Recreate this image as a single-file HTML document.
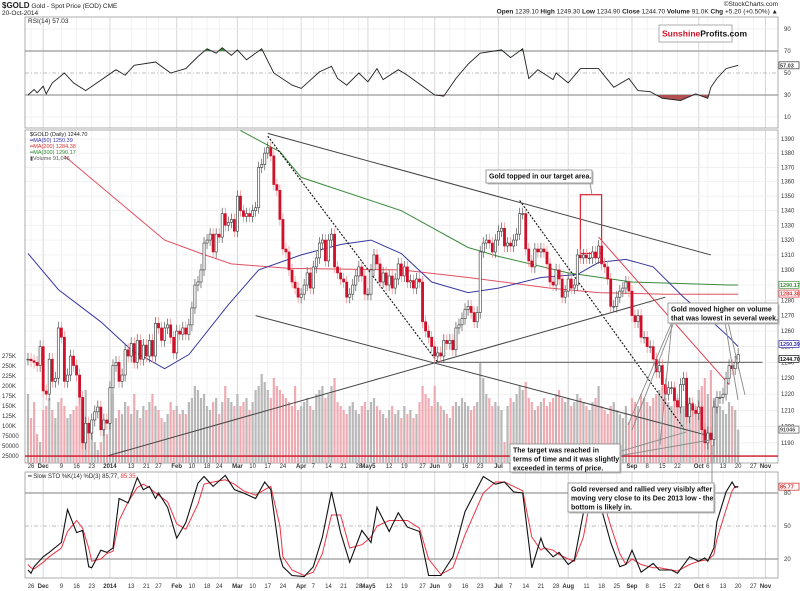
<!DOCTYPE html>
<html><head><meta charset="utf-8">
<style>
html,body{margin:0;padding:0;background:#fff;}
svg{display:block;font-family:"Liberation Sans",sans-serif;}
.t{font-size:6.5px;fill:#222;}
.ax{font-size:6px;fill:#333;}
.bold{font-weight:bold;}
.note{font-size:7px;font-weight:bold;fill:#111;}
</style></head>
<body>
<svg id="chart" width="800" height="591" viewBox="0 0 800 591" xmlns="http://www.w3.org/2000/svg">
<defs>
<clipPath id="clipP"><rect x="25" y="130" width="753" height="333"/></clipPath>
<clipPath id="clipR70"><rect x="25" y="17" width="753" height="34"/></clipPath>
<clipPath id="clipR30"><rect x="25" y="95" width="753" height="33"/></clipPath>
</defs>
<g id="grid"></g>
<rect x="25" y="17" width="753" height="111" fill="none" stroke="#999" stroke-width="0.8"/>
<rect x="25" y="130" width="753" height="333" fill="none" stroke="#999" stroke-width="0.8"/>
<rect x="25" y="472" width="753" height="106" fill="none" stroke="#999" stroke-width="0.8"/>
<g id="rsi"></g>
<g id="vol" clip-path="url(#clipP)"></g>
<g id="ma" clip-path="url(#clipP)"></g>
<g id="lines" clip-path="url(#clipP)"></g>
<g id="candles" clip-path="url(#clipP)"></g>
<g id="sto"></g>
<g id="axes"></g>

<text x="2" y="8" class="t"><tspan class="bold" font-size="8">$GOLD</tspan> Gold - Spot Price (EOD) CME</text>
<text x="2" y="15" class="t" font-size="6">20-Oct-2014</text>
<text x="778" y="6" class="t" text-anchor="end" font-size="5.5" fill="#777">©StockCharts.com</text>
<text x="778" y="13.5" class="t" text-anchor="end" font-size="6"><tspan class="bold">Open</tspan> 1239.10 <tspan class="bold">High</tspan> 1249.30 <tspan class="bold">Low</tspan> 1234.90 <tspan class="bold">Close</tspan> 1244.70 <tspan class="bold">Volume</tspan> 91.0K <tspan class="bold">Chg</tspan> +5.20 (+0.50%) ▲</text>
<text x="28" y="23" class="t" font-size="6">RSI(14) 57.03</text>
<g>
<rect x="659" y="25" width="73" height="17" fill="#fff" stroke="#999" stroke-width="0.8"/>
<text x="662" y="36.5" font-size="8.5" font-weight="bold" fill="#d0102a">Sunshine<tspan fill="#111">Profits.com</tspan></text>
</g>
<g font-size="5.5">
<text x="30" y="136" fill="#222">$GOLD (Daily) 1244.70</text>
<text x="30" y="142" fill="#33a">━MA(50) 1250.39</text>
<text x="30" y="148" fill="#d33">━MA(200) 1284.38</text>
<text x="30" y="154" fill="#383">━MA(300) 1290.17</text>
<text x="30" y="160" fill="#555">▮Volume 91,046</text>
</g>
<text x="28" y="478" font-size="6" fill="#222">━ Slow STO %K(14) %D(3) 85.77, <tspan fill="#e33">85.35</tspan></text>

<g id="notes"></g>

<script>
const ns = "http://www.w3.org/2000/svg";
// ---- data ----
const closes = [1242,1241,1240,1238,1250,
1222,1220,1242,1228,1230,1262,1256,1228,1232,1244,1238,1232,1218,1190,1202,1196,1204,1209,1212,1198,1204,1202,
1224,1238,1240,1228,1232,1248,1244,1252,1240,1254,1242,1251,1244,1254,1244,1265,1262,1254,1262,1264,1256,1246,
1260,1258,1262,1258,1264,1275,1290,1292,1300,1318,1320,1324,1312,1324,1322,1338,1330,1332,1334,1326,
1350,1340,1336,1338,1336,1340,1342,1370,1372,1380,1384,1378,1358,1354,1334,1314,1312,1300,1292,1288,1282,
1284,1290,1298,1288,1302,1308,1318,1320,1306,1320,1324,1302,1298,1294,1292,1282,1284,1290,1296,1302,1296,1284,
1284,1300,1310,1304,1292,1298,1290,1296,1288,1294,1304,1296,1302,1292,1293,1288,1294,1292,1266,1260,1256,1250,
1244,1246,1244,1254,1252,1254,1248,1262,1264,1268,1274,1276,1272,1266,1272,1312,1318,1320,1318,1312,1320,
1326,1328,1316,1318,1316,1320,1324,1338,1338,1314,1306,1302,1314,1312,1314,1312,1304,1292,1290,1300,1294,1282,1286,
1294,1288,1290,1310,1308,1310,1308,1308,1312,1308,1316,1304,1302,1294,1276,1276,1282,1286,1288,1292,1286,
1270,1266,1270,1256,1256,1250,1250,1242,1234,1238,1226,1220,1224,1224,1216,1212,1226,1230,1206,1214,1210,1208,
1212,1198,1190,1196,1192,1212,1218,1218,1220,1230,1238,1236,1240,1245];
const volumesK = [180,120,160,80,60,
140,150,170,140,120,160,170,150,120,130,140,150,170,160,190,100,110,60,40,60,90,80,
170,180,120,140,130,160,150,130,180,140,120,150,140,160,180,150,140,120,110,130,160,140,
150,130,140,130,160,170,200,190,170,180,150,140,160,170,130,160,200,170,160,150,
180,150,160,170,140,160,190,200,230,210,190,170,220,200,190,180,170,160,150,200,140,
150,160,170,150,140,180,190,200,170,180,200,220,160,150,140,130,150,160,140,130,150,160,
140,160,170,150,140,130,120,140,150,130,140,120,150,130,140,120,130,160,200,180,170,150,
200,160,150,140,130,120,150,160,150,170,160,150,140,150,160,260,220,180,170,150,160,
150,140,60,150,170,160,180,200,190,210,170,160,140,150,160,170,150,160,170,180,190,170,160,
170,150,160,180,170,160,150,140,160,170,200,150,140,130,150,160,140,130,120,150,110,
170,160,150,180,170,160,150,170,180,190,200,170,160,150,180,170,160,150,180,170,160,150,
190,200,220,180,240,170,160,150,140,130,160,150,140,91];
const rsiIdx = [0,2,3,5,6,8,12,15,19,29,32,35,42,47,52,56,59,62,64,67,69,72,77,81,87,90,96,100,102,105,109,112,115,117,122,125,130,134,137,141,145,149,156,159,163,165,168,173,174,178,182,188,193,198,201,205,209,215,220,224,225,227,230,234];
const rsiVal = [30,35,32,38,31,41,50,41,34,53,48,57,60,50,54,65,72,68,73,66,71,62,72,50,39,36,51,56,45,39,50,42,54,44,53,48,38,30,29,45,58,68,71,64,72,45,53,44,50,41,54,54,37,45,34,33,27,25,31,27,37,45,54,57];
const stoIdx = [0,1,2,5,7,11,13,16,18,20,21,24,26,28,30,33,36,38,40,42,43,46,49,52,56,58,61,65,68,71,75,78,80,83,84,87,91,94,97,100,103,106,110,113,115,119,122,125,129,132,136,140,144,150,154,157,160,163,166,169,170,173,175,178,180,183,185,187,189,192,195,197,199,202,206,208,212,214,218,221,223,224,226,227,230,232,233,234];
const stoK = [10,7,13,22,26,35,65,44,46,13,12,28,26,30,75,71,94,83,86,75,80,67,39,53,89,95,86,96,83,80,75,90,83,22,13,5,4,13,40,81,44,17,46,35,67,45,62,49,45,5,5,22,63,95,88,90,81,80,12,39,31,22,26,15,19,62,87,88,65,35,13,15,28,8,16,10,10,7,22,18,21,18,30,54,81,90,85,86];
const stoD = [15,12,11,17,22,30,45,55,48,30,18,20,25,27,55,72,85,88,85,80,78,72,52,47,70,88,90,92,88,82,78,83,86,50,22,10,5,8,25,60,60,30,33,40,50,55,55,55,48,20,6,12,42,80,90,90,86,82,40,28,30,28,24,20,18,40,70,85,78,50,25,15,20,15,12,12,10,9,15,18,19,19,24,38,65,82,86,85];
const ma50Idx = [0,10,24,34,45,53,66,76,90,103,113,123,133,145,155,169,181,188,197,206,216,226,231,234];
const ma50Val = [1311,1287,1266,1248,1236,1245,1277,1300,1310,1317,1320,1311,1292,1285,1288,1295,1297,1305,1307,1302,1282,1265,1256,1250];
const ma200Idx = [12,45,57,67,86,123,145,172,188,210,234];
const ma200Val = [1378,1320,1311,1304,1301,1300,1295,1288,1285,1284,1284];
const ma300Idx = [70,83,90,123,145,155,178,199,231,234];
const ma300Val = [1396,1381,1363,1340,1315,1309,1298,1292,1290,1290];
const priceTicks = [1390,1380,1370,1360,1350,1340,1330,1320,1310,1300,1290,1280,1270,1260,1250,1240,1230,1220,1210,1200,1190];
const volTicks = [275,250,225,200,175,150,125,100,75,50,25];
const volTickLabels = ["275K","250K","225K","200K","175K","150K","125K","100K","75000","50000","25000"];
const rsiTicks = [90,70,50,30,10];
const stoTicks = [80,50,20];
const dateIdx = [1,5,11,16,21,27,34,39,43,49,54,59,63,69,74,79,84,90,94,99,104,109,112,119,124,130,134,139,144,149,155,159,164,169,174,178,184,189,194,199,204,209,214,221,224,229,234,239,243];
const dateLbl = ["26","Dec","9","16","23","2014","13","21","27","Feb","10","18","24","Mar","10","17","24","Apr","7","14","21","28","May5","12","19","27","Jun","9","16","23","Jul","7","14","21","28","Aug","11","18","25","Sep","8","15","22","Oct","6","13","20","27","Nov"];
const trendTop = [79,1394,225,1310];
const trendDot1 = [79,1392,135,1240];
const trendDot2 = [162,1347,216,1199];
const trendUp = [26,1182,210,1282];
const trendDown = [75,1270,225,1194];
const trendHoriz = [135,1240,242,1240];
const trendRed = [188,1322,231,1226];
const redBox = [182,1351,189,1311];
const supportLevel = 1182;

// ---- scales ----
const X = i => 28 + i * 3.035;
const YP = p => 139 + 1956 * Math.log(1390 / p);
const YR = r => 73 - (r - 50) * 1.1;
const YS = s => 526 - (s - 50) * 1.1;
const YV = v => 466 - v * 0.4;

function mk(tag, attrs, parent) {
  const e = document.createElementNS(ns, tag);
  for (const k in attrs) e.setAttribute(k, attrs[k]);
  parent.appendChild(e);
  return e;
}
const G = id => document.getElementById(id);

const grid = G('grid');
dateIdx.forEach((d, k) => {
  const x = X(d);
  const isM = /[A-Za-z]/.test(dateLbl[k]) || dateLbl[k] === "2014";
  [[17,128],[130,463],[472,578]].forEach(([a,b]) => {
    const l = mk('line', {x1:x, x2:x, y1:a, y2:b, stroke: isM ? '#d8d8d8' : '#ececec', 'stroke-width': isM ? 1 : 0.7}, grid);
    
    
  });
  [466, 586].forEach(yy => {
    const t = mk('text', {x:x, y:yy+2, 'text-anchor':'middle', class:'ax' + (isM ? ' bold' : '')}, G('axes'));
    t.textContent = dateLbl[k];
    
    
  });
});
priceTicks.forEach(p => {
  const y = YP(p);
  const l = mk('line', {x1:25, x2:778, y1:y, y2:y, stroke:'#ececec', 'stroke-width':0.7}, grid);
  
  
  const t = mk('text', {x:781, y:y+2, class:'ax', 'font-size':5.5}, G('axes'));
  t.textContent = p;
  
  
});
volTicks.forEach((v, k) => {
  const t = mk('text', {x:2, y:YV(v)+2, class:'ax', 'font-size':5.5}, G('axes'));
  t.textContent = volTickLabels[k];
  
  
});
rsiTicks.forEach(r => {
  const y = YR(r);
  const main = (r === 70 || r === 30);
  const l = mk('line', {x1:25, x2:778, y1:y, y2:y, stroke: main ? '#999' : (r===50 ? '#aaa' : '#ececec'), 'stroke-width': main ? 1.2 : 0.7, 'stroke-dasharray': r===50 ? '4,2,1,2' : 'none'}, grid);
  
  
  const t = mk('text', {x:784, y:y+2, class:'ax'}, G('axes'));
  t.textContent = r;
  
  
});
stoTicks.forEach(s => {
  const y = YS(s);
  const l = mk('line', {x1:25, x2:778, y1:y, y2:y, stroke: s===50 ? '#aaa' : '#999', 'stroke-width': s===50 ? 0.7 : 1.2, 'stroke-dasharray': s===50 ? '4,2,1,2' : 'none'}, grid);
  
  
  const t = mk('text', {x:784, y:y+2, class:'ax'}, G('axes'));
  t.textContent = s;
  
  
});

const rsiPts = rsiIdx.map((d, k) => X(d).toFixed(1) + ',' + YR(rsiVal[k]).toFixed(1));
const rg = G('rsi');
const fa = mk('polygon', {points: X(rsiIdx[0])+','+YR(70)+' '+rsiPts.join(' ')+' '+X(rsiIdx[rsiIdx.length-1])+','+YR(70), fill:'#3a8a3a', 'clip-path':'url(#clipR70)'}, rg);


const fb = mk('polygon', {points: X(rsiIdx[0])+','+YR(30)+' '+rsiPts.join(' ')+' '+X(rsiIdx[rsiIdx.length-1])+','+YR(30), fill:'#b05050', 'clip-path':'url(#clipR30)'}, rg);


const rl = mk('polyline', {points: rsiPts.join(' '), fill:'none', stroke:'#222', 'stroke-width':0.9}, rg);



const vg = G('vol');
volumesK.forEach((v, i) => {
  const up = i === 0 || closes[i] >= closes[i-1];
  const r = mk('rect', {x: X(i)-1.1, y: YV(v), width: 2.2, height: 466 - YV(v), fill: up ? '#b8b8b8' : '#f0aab2'}, vg);
  
  
});

function polyFrom(idx, val, color, name) {
  const p = mk('polyline', {points: idx.map((d,k) => X(d).toFixed(1)+','+YP(val[k]).toFixed(1)).join(' '), fill:'none', stroke:color, 'stroke-width':1}, G('ma'));
  
  
}
polyFrom(ma200Idx, ma200Val, '#e05060', 'ma200-line');
polyFrom(ma300Idx, ma300Val, '#3a8a3a', 'ma300-line');
polyFrom(ma50Idx, ma50Val, '#3838a0', 'ma50-line');

function tline(t, color, w, dash, name) {
  const l = mk('line', {x1:X(t[0]), y1:YP(t[1]), x2:X(t[2]), y2:YP(t[3]), stroke:color, 'stroke-width':w, 'stroke-dasharray':dash}, G('lines'));
  
  
}
tline(trendTop, '#444', 1, 'none', 'upper-resistance-line');
tline(trendDot1, '#111', 1.1, '2,1.5', 'dotted-decline-line-1');
tline(trendDot2, '#111', 1.1, '2,1.5', 'dotted-decline-line-2');
tline(trendUp, '#444', 1, 'none', 'rising-support-line');
tline(trendDown, '#444', 1, 'none', 'declining-support-line');
tline(trendHoriz, '#777', 1.2, 'none', 'horizontal-1240-line');
tline(trendRed, '#e03040', 0.9, 'none', 'red-declining-line');
const sl = mk('line', {x1:25, x2:778, y1:YP(supportLevel), y2:YP(supportLevel), stroke:'#cc1122', 'stroke-width':1.3}, G('lines'));


const rb = mk('rect', {x:X(redBox[0]), y:YP(redBox[1]), width:X(redBox[2])-X(redBox[0]), height:YP(redBox[3])-YP(redBox[1]), fill:'none', stroke:'#dd2233', 'stroke-width':1.2}, G('lines'));



const cg = G('candles');
closes.forEach((c, i) => {
  const o = i === 0 ? c : closes[i-1];
  const hi = Math.max(o, c) + 4, lo = Math.min(o, c) - 4;
  const x = X(i);
  const up = c >= o;
  const col = up ? '#333' : '#d0102a';
  const w = mk('line', {x1:x, x2:x, y1:YP(hi), y2:YP(lo), stroke: up ? '#555' : '#e88', 'stroke-width':0.7}, cg);
  
  
  const top = YP(Math.max(o, c)), bot = YP(Math.min(o, c));
  const b = mk('rect', {x:x-1.1, y:top, width:2.2, height:Math.max(0.8, bot-top), fill: up ? '#fff' : '#d0102a', stroke: col, 'stroke-width':0.6}, cg);
  
  
});

const sg = G('sto');
const dl = mk('polyline', {points: stoIdx.map((d,k)=>X(d).toFixed(1)+','+YS(stoD[k]).toFixed(1)).join(' '), fill:'none', stroke:'#ee3344', 'stroke-width':1}, sg);


const kl = mk('polyline', {points: stoIdx.map((d,k)=>X(d).toFixed(1)+','+YS(stoK[k]).toFixed(1)).join(' '), fill:'none', stroke:'#111', 'stroke-width':1.1}, sg);



function tag(y, text, color, name) {
  const g = mk('g', {}, G('axes'));
  
  
  mk('rect', {x:779, y:y-3.5, width:20, height:7, fill:'#fff', stroke:color, 'stroke-width':0.7}, g);
  const t = mk('text', {x:780, y:y+2, 'font-size':5.5, fill:color, 'font-weight':'bold'}, g);
  t.textContent = text;
}
tag(YR(57), '57.03', '#333', 'rsi-value-tag');
tag(YP(1290.17), '1290.17', '#3a8a3a', 'ma300-value-tag');
tag(YP(1284.38), '1284.38', '#d33', 'ma200-value-tag');
tag(YP(1250.39)-2, '1250.39', '#33a', 'ma50-value-tag');
tag(YP(1244.7)+4, '1244.70', '#111', 'price-value-tag');
tag(YV(91), '91046', '#555', 'volume-value-tag');
tag(YS(85.77), '85.77', '#c22', 'stoch-value-tag');

const ng = G('notes');
function pointer(pts, name) {
  const p = mk('polyline', {points: pts, fill:'none', stroke:'#888', 'stroke-width':0.9}, ng);
  
  
}
pointer('590,183 592,195', 'pointer-topped');
pointer('672,322 628,425', 'pointer-volume-1');
pointer('674,322 632,430', 'pointer-volume-1b');
pointer('672,322 660,445', 'pointer-volume-2');
pointer('725,322 738,400', 'pointer-volume-3');
pointer('728,322 745,395', 'pointer-volume-3b');
pointer('618,452 686,432', 'pointer-target-1');
pointer('618,456 710,440', 'pointer-target-2');
pointer('712,483 712,445', 'pointer-reversal');
function note(x, y, w, h, lines, name) {
  const g = mk('g', {}, ng);
  
  
  mk('rect', {x:x+1.5, y:y+1.5, width:w, height:h, fill:'#bbb'}, g);
  mk('rect', {x:x, y:y, width:w, height:h, fill:'#fff', stroke:'#888', 'stroke-width':0.8}, g);
  lines.forEach((s, k) => {
    const t = mk('text', {x:x+3, y:y+8.5+k*9, class:'note'}, g);
    t.textContent = s;
  });
}
note(486, 170, 106, 13, ['Gold topped in our target area.'], 'note-topped');
note(668, 303, 110, 20, ['Gold moved higher on volume', 'that was lowest in several week.'], 'note-volume');
note(510, 444, 110, 28, ['The target was reached in', 'terms of time and it was slightly', 'exceeded in terms of price.'], 'note-target');
note(568, 483, 146, 29, ['Gold reversed and rallied very visibly after', 'moving very close to its Dec 2013 low - the', 'bottom is likely in.'], 'note-reversal');
</script>
</svg>
</body></html>
